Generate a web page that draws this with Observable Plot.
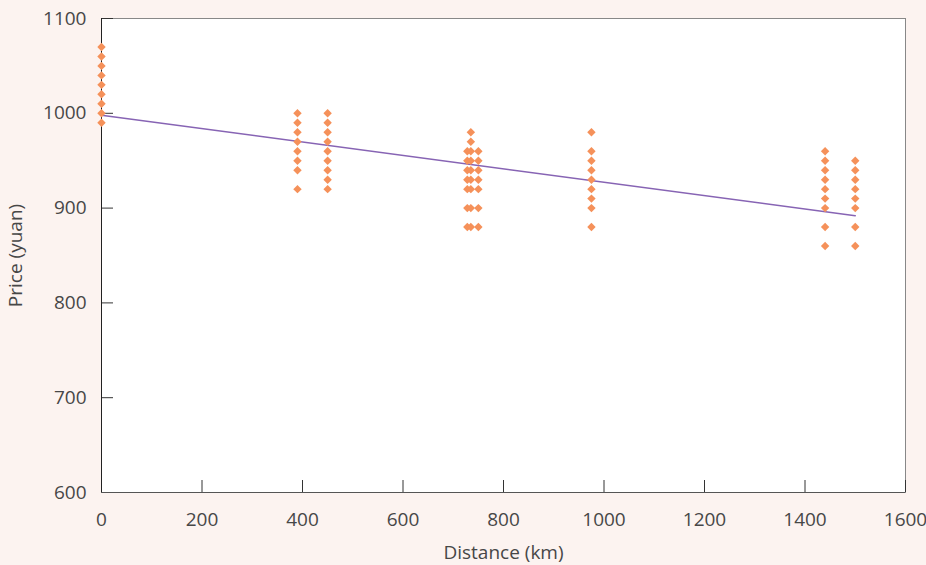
<!DOCTYPE html>
<html>
<head>
<meta charset="utf-8">
<script src="https://cdn.jsdelivr.net/npm/d3@7"></script>
<script src="https://cdn.jsdelivr.net/npm/@observablehq/plot@0.6"></script>
<style>
  html, body { margin: 0; padding: 0; background: #fcf3f0; }
</style>
</head>
<body>
<div id="chart"></div>
<script>
// Distances (km) of each column of observations and the prices (yuan) seen there
const distances = [0, 390, 450, 728, 735, 750, 975, 1440, 1500];
const prices = [
  [990, 1000, 1010, 1020, 1030, 1040, 1050, 1060, 1070],
  [920, 940, 950, 960, 970, 980, 990, 1000],
  [920, 930, 940, 950, 960, 970, 980, 990, 1000],
  [880, 900, 920, 930, 940, 950, 960],
  [880, 900, 920, 930, 940, 950, 960, 970, 980],
  [880, 900, 920, 930, 940, 950, 960],
  [880, 900, 910, 920, 930, 940, 950, 960, 980],
  [860, 880, 900, 910, 920, 930, 940, 950, 960],
  [860, 880, 900, 910, 920, 930, 940, 950]
];
// Fitted trend line, end points
const trendDistance = [0, 1500];
const trendPrice = [998, 892];
const xTicks = [0, 200, 400, 600, 800, 1000, 1200, 1400, 1600];
const yTicks = [600, 700, 800, 900, 1000, 1100];

const data = distances.flatMap((d, i) => prices[i].map(p => ({distance: d, price: p})));
const trend = trendDistance.map((d, i) => ({distance: d, price: trendPrice[i]}));

const W = 926, H = 565;
const mL = 101, mR = 21, mT = 18, mB = 73;
const plotW = W - mL - mR, plotH = H - mT - mB;
const tick = 12;

const chart = Plot.plot({
  width: W,
  height: H,
  marginLeft: mL,
  marginRight: mR,
  marginTop: mT,
  marginBottom: mB,
  style: {background: "#fcf3f0", fontFamily: "'Open Sans', sans-serif", fontSize: "19px", color: "#474747", overflow: "visible"},
  x: {domain: [0, 1600]},
  y: {domain: [600, 1100]},
  marks: [
    Plot.frame({fill: "white", stroke: "#888"}),
    Plot.ruleX(xTicks, {x: d => d, insetTop: plotH - tick, stroke: "#333"}),
    Plot.ruleY(yTicks, {y: d => d, insetRight: plotW - tick, stroke: "#333"}),
    Plot.ruleX([0], {stroke: "#222"}),
    Plot.ruleY([600], {stroke: "#555"}),
    Plot.axisX({ticks: xTicks, tickFormat: d => String(d), tickSize: 0, tickPadding: 20, fontSize: 19, label: "Distance (km)", labelAnchor: "center", labelArrow: "none", labelOffset: 66}),
    Plot.axisY({ticks: yTicks, tickFormat: d => String(d), tickSize: 0, tickPadding: 15, fontSize: 19, label: "Price (yuan)", labelAnchor: "center", labelArrow: "none", labelOffset: 93}),
    Plot.line(trend, {x: "distance", y: "price", stroke: "#8764b4", strokeWidth: 1.5}),
    Plot.dot(data, {x: "distance", y: "price", symbol: "diamond2", r: 3.8, fill: "#f5915a", stroke: "none"})
  ]
});
document.getElementById("chart").appendChild(chart);
</script>
</body>
</html>
